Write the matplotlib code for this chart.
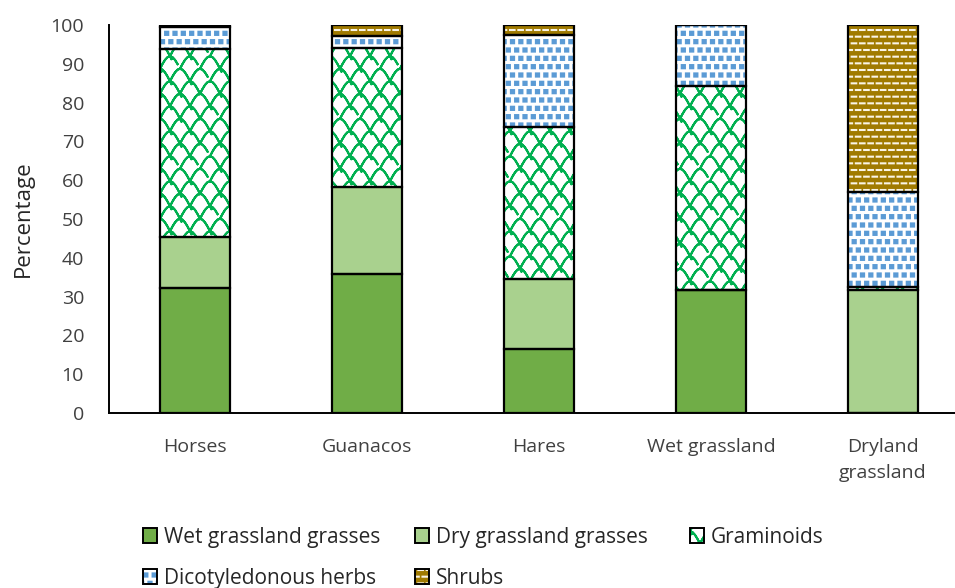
import warnings
import numpy as np
import matplotlib
matplotlib.use("Agg")
import matplotlib.pyplot as plt
import matplotlib.hatch as mhatch
from matplotlib.patches import Patch
from matplotlib.path import Path

warnings.filterwarnings("ignore")


class ScaleHatch(mhatch.HatchPatternBase):
    """Fish-scale arcs, selected with 'w' in the hatch string.

    Each arc is traced forward and back so the hatch renderer's fill
    pass covers no area and only the stroke shows.
    """
    npts = 9

    def __init__(self, hatch, density):
        n = hatch.count('w')
        self.rows = 8 * n
        self.cols = 5 * n
        self.num_vertices = ((self.rows + 1) * (self.cols + 1) * self.npts * 2
                             if n else 0)

    def set_vertices_and_codes(self, vertices, codes):
        dy = 1.0 / self.rows
        w = 1.0 / self.cols
        t = np.linspace(0, 1, self.npts)
        arc = np.column_stack([t * w, np.sin(np.pi * t) * dy])
        arc = np.concatenate([arc, arc[::-1]])
        arc_codes = np.full(len(arc), Path.LINETO, dtype=Path.code_type)
        arc_codes[0] = Path.MOVETO
        vparts, cparts = [], []
        for j in range(-1, self.rows):
            y0 = (j + 0.5) * dy
            shift = -0.5 * w if j % 2 else 0.0
            for k in range(self.cols + 1):
                vparts.append(arc + [k * w + shift, y0])
                cparts.append(arc_codes)
        np.concatenate(vparts, out=vertices)
        np.concatenate(cparts, out=codes)


class FilledSquares(mhatch.Shapes):
    """Small filled squares on a staggered grid, selected with 'q'."""
    size = 0.19
    filled = True

    def __init__(self, hatch, density):
        self.num_rows = hatch.count('q') * density
        path = Path.unit_rectangle()
        self.shape_vertices = (path.vertices - 0.5) * 2
        self.shape_codes = path.codes
        super().__init__(hatch, density)


class BrickDashes(mhatch.HatchPatternBase):
    """Short horizontal dashes in offset rows, selected with 'd'."""

    def __init__(self, hatch, density):
        n = hatch.count('d')
        self.rows = 15 * n
        self.cols = 12 * n
        self.num_vertices = self.rows * (self.cols + 1) * 2 if n else 0

    def set_vertices_and_codes(self, vertices, codes):
        dy = 1.0 / self.rows
        w = 1.0 / self.cols
        vparts, cparts = [], []
        for j in range(self.rows):
            y0 = (j + 0.5) * dy
            shift = -0.5 * w if j % 2 else 0.0
            for k in range(self.cols + 1):
                x0 = k * w + shift + 0.2 * w
                vparts.append([[x0, y0], [x0 + 0.55 * w, y0]])
                cparts.append([Path.MOVETO, Path.LINETO])
        np.concatenate(vparts, out=vertices)
        codes[:] = np.concatenate(cparts)


mhatch._hatch_types.extend([ScaleHatch, FilledSquares, BrickDashes])

plt.rcParams['font.family'] = ['Open Sans', 'DejaVu Sans']
plt.rcParams['hatch.linewidth'] = 1.5

categories = ["Horses", "Guanacos", "Hares", "Wet grassland", "Dryland\ngrassland"]
wet_grassland_grasses = [32.2, 35.8, 16.5, 31.7, 0.0]
dry_grassland_grasses = [13.2, 22.4, 18.0, 0.0, 31.7]
graminoids = [48.3, 35.8, 39.1, 52.7, 0.9]
dicotyledonous_herbs = [5.7, 3.2, 23.8, 15.6, 24.4]
shrubs = [0.6, 2.8, 2.6, 0.0, 43.0]

series = [
    ("Wet grassland grasses", wet_grassland_grasses, "#70AD47", None, "#70AD47"),
    ("Dry grassland grasses", dry_grassland_grasses, "#A9D18E", None, "#A9D18E"),
    ("Graminoids", graminoids, "white", "w", "#00B050"),
    ("Dicotyledonous herbs", dicotyledonous_herbs, "white", "qq", "#5B9BD5"),
    ("Shrubs", shrubs, "#A07A00", "d", "#FAF4E6"),
]

fig = plt.figure(figsize=(9.55, 5.88), dpi=100)
ax = fig.add_axes([109 / 955, 175 / 588, 860 / 955, 388 / 588])

x = list(range(len(categories)))
bottom = [0.0] * len(categories)
handles = []
for name, vals, face, hatch, hcol in series:
    ax.bar(x, vals, 0.41, bottom=bottom, color=face, hatch=hatch,
           edgecolor=hcol, linewidth=0, zorder=2)
    ax.bar(x, vals, 0.41, bottom=bottom, fill=False, edgecolor="black",
           linewidth=1.6, zorder=3)
    bottom = [b + v for b, v in zip(bottom, vals)]
    handles.append((Patch(facecolor=face, hatch=hatch, edgecolor=hcol, linewidth=0),
                    Patch(fill=False, edgecolor="black", linewidth=1.4)))

ax.set_xlim(-0.5, 4.5)
ax.set_ylim(0, 100)
ax.set_yticks(range(0, 101, 10))
ax.set_xticks(x)
ax.set_xticklabels(categories, linespacing=1.55)
ax.tick_params(axis="both", length=0, labelsize=14, colors="#404040")
ax.tick_params(axis="y", pad=18)
ax.tick_params(axis="x", pad=18)
for s in ["top", "right"]:
    ax.spines[s].set_visible(False)
ax.spines["left"].set_linewidth(1.4)
ax.spines["bottom"].set_linewidth(1.4)
ax.set_ylabel("Percentage", fontsize=16, color="#262626", labelpad=12)

# legend laid out in equal-width columns, filled row by row
columns = [[0, 3], [1, 4], [2]]
column_x = [124, 396, 671]
for idx, cx in zip(columns, column_x):
    fig.legend([handles[i] for i in idx], [series[i][0] for i in idx],
               ncol=1, loc="upper left", bbox_to_anchor=(cx / 955, 1 - 508 / 588),
               frameon=False, fontsize=15, handlelength=0.7, handleheight=0.7,
               handletextpad=0.3, labelspacing=0.95, labelcolor="#262626")

fig.savefig("out.png", dpi=100)
